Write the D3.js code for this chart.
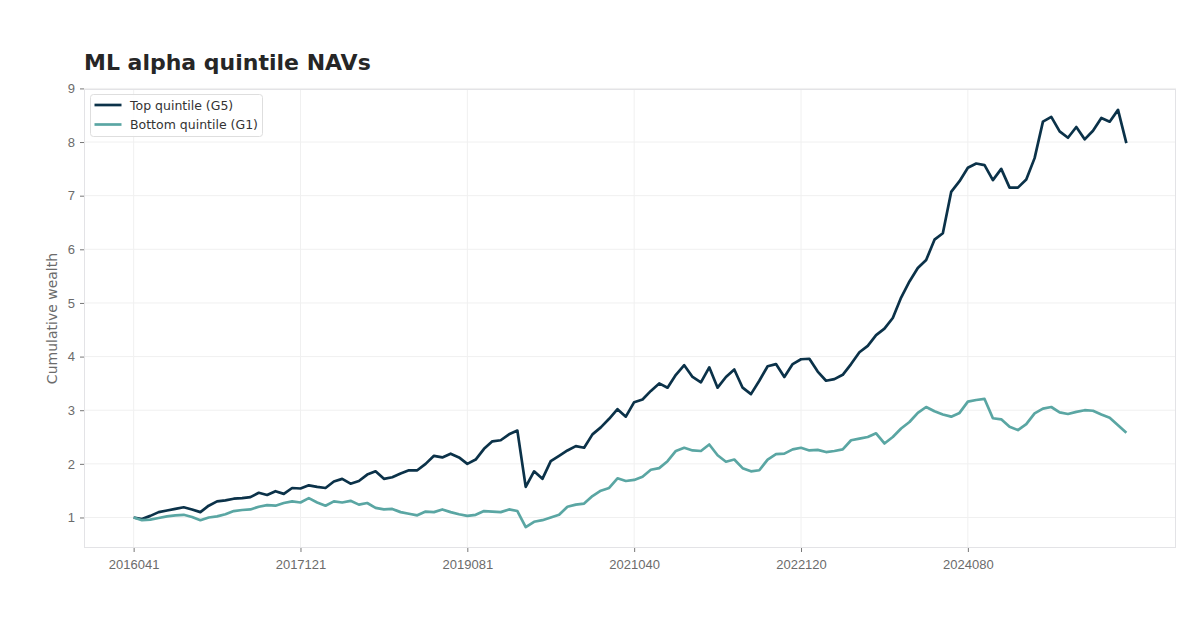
<!DOCTYPE html>
<html>
<head>
<meta charset="utf-8">
<script src="https://cdn.jsdelivr.net/npm/d3@7"></script>
<style>
  html, body { margin: 0; padding: 0; background: #fff; }
  svg { display: block; font-family: "DejaVu Sans", sans-serif; }
  .grid line { stroke: #f0f0f0; stroke-width: 1; }
  .axis text { fill: #6b6b6b; font-size: 13px; }
  .axis line { stroke: #777; }
  .axis .domain { display: none; }
</style>
</head>
<body>
<svg width="1200" height="630"></svg>
<script>
// tick labels shown on the x axis (every 20th observation)
const xTickLabels = ['2016041', '2017121', '2019081', '2021040', '2022120', '2024080'];
const xTickIdx = [0, 20, 40, 60, 80, 100];
const yTicks = [1, 2, 3, 4, 5, 6, 7, 8, 9];

// cumulative wealth, top quintile (G5)
const topG5 = [
  1.00, 0.97, 1.03, 1.10, 1.13, 1.16, 1.19, 1.15, 1.10, 1.22,
  1.30, 1.32, 1.35, 1.36, 1.38, 1.46, 1.42, 1.49, 1.44, 1.55,
  1.54, 1.60, 1.57, 1.55, 1.67, 1.72, 1.63, 1.68, 1.80, 1.86,
  1.72, 1.75, 1.82, 1.88, 1.88, 2.00, 2.15, 2.12, 2.19, 2.12,
  2.00, 2.08, 2.28, 2.42, 2.44, 2.55, 2.62, 1.57, 1.86, 1.72,
  2.05, 2.15, 2.25, 2.33, 2.30, 2.55, 2.68, 2.84, 3.02, 2.88,
  3.15, 3.20, 3.36, 3.50, 3.42, 3.66, 3.84, 3.62, 3.52, 3.80,
  3.42, 3.62, 3.76, 3.42, 3.30, 3.55, 3.82, 3.86, 3.62, 3.86,
  3.95, 3.96, 3.72, 3.55, 3.58, 3.66, 3.86, 4.08, 4.20, 4.40,
  4.52, 4.72, 5.10, 5.40, 5.65, 5.80, 6.18, 6.30, 7.07, 7.27,
  7.52, 7.60, 7.57, 7.29, 7.50, 7.15, 7.15, 7.30, 7.70, 8.38,
  8.47, 8.20, 8.08, 8.28, 8.05, 8.21, 8.45, 8.38, 8.60, 7.98
];

// cumulative wealth, bottom quintile (G1)
const bottomG1 = [
  1.00, 0.95, 0.96, 0.99, 1.02, 1.04, 1.05, 1.01, 0.95, 1.00,
  1.02, 1.06, 1.12, 1.14, 1.15, 1.20, 1.23, 1.22, 1.27, 1.30,
  1.28, 1.36, 1.28, 1.22, 1.30, 1.28, 1.31, 1.24, 1.27, 1.18,
  1.15, 1.16, 1.10, 1.07, 1.04, 1.11, 1.10, 1.15, 1.10, 1.06,
  1.03, 1.05, 1.12, 1.11, 1.10, 1.15, 1.12, 0.82, 0.92, 0.95,
  1.00, 1.05, 1.20, 1.24, 1.26, 1.40, 1.50, 1.55, 1.73, 1.68,
  1.70, 1.76, 1.89, 1.92, 2.05, 2.24, 2.30, 2.25, 2.24, 2.36,
  2.16, 2.04, 2.08, 1.92, 1.86, 1.88, 2.08, 2.18, 2.19, 2.27,
  2.30, 2.25, 2.26, 2.22, 2.24, 2.27, 2.44, 2.47, 2.50, 2.57,
  2.38, 2.50, 2.66, 2.78, 2.95, 3.06, 2.98, 2.92, 2.88, 2.95,
  3.16, 3.19, 3.21, 2.85, 2.83, 2.69, 2.63, 2.74, 2.94, 3.03,
  3.06, 2.96, 2.93, 2.97, 3.00, 2.99, 2.92, 2.86, 2.72, 2.58
];

const seriesNames = ['Top quintile (G5)', 'Bottom quintile (G1)'];
const seriesColors = ['#0b3249', '#5aa6a3'];

const svg = d3.select('svg');
const margin = { top: 89, right: 24, bottom: 82, left: 84 };
const W = 1200, H = 630;
const innerW = W - margin.left - margin.right;
const innerH = H - margin.top - margin.bottom;

const n = topG5.length;
const x = d3.scaleLinear()
  .domain([-(n - 1) * 0.05, (n - 1) * 1.05])
  .range([margin.left, margin.left + innerW]);

const allVals = topG5.concat(bottomG1);
const [lo, hi] = d3.extent(allVals);
const pad = (hi - lo) * 0.05;
const y = d3.scaleLinear()
  .domain([lo - pad, hi + pad])
  .range([margin.top + innerH, margin.top]);

// title
svg.append('text')
  .attr('x', margin.left)
  .attr('y', 70)
  .attr('font-size', 22)
  .attr('font-weight', 'bold')
  .attr('fill', '#262626')
  .text('ML alpha quintile NAVs');

// grid
const grid = svg.append('g').attr('class', 'grid');
grid.selectAll('.gy').data(yTicks).join('line')
  .attr('x1', margin.left).attr('x2', margin.left + innerW)
  .attr('y1', d => y(d)).attr('y2', d => y(d));
grid.selectAll('.gx').data(xTickIdx).join('line')
  .attr('x1', d => x(d)).attr('x2', d => x(d))
  .attr('y1', margin.top).attr('y2', margin.top + innerH);

// frame
svg.append('rect')
  .attr('x', margin.left + 0.5).attr('y', margin.top + 0.5)
  .attr('width', innerW - 1).attr('height', innerH - 1)
  .attr('fill', 'none').attr('stroke', '#e3e3e6');

// axes
svg.append('g').attr('class', 'axis')
  .attr('transform', `translate(${margin.left},0)`)
  .call(d3.axisLeft(y).tickValues(yTicks).tickSize(4).tickPadding(5).tickFormat(d3.format('d')));

svg.append('g').attr('class', 'axis')
  .attr('transform', `translate(0,${margin.top + innerH})`)
  .call(d3.axisBottom(x).tickValues(xTickIdx).tickSize(4).tickPadding(8)
    .tickFormat((d, i) => xTickLabels[i]));

// y label
svg.append('text')
  .attr('transform', `translate(57,${margin.top + innerH / 2}) rotate(-90)`)
  .attr('text-anchor', 'middle')
  .attr('font-size', 14)
  .attr('fill', '#6b6b6b')
  .text('Cumulative wealth');

// lines
const line = d3.line().x((d, i) => x(i)).y(d => y(d));
[topG5, bottomG1].forEach((s, k) => {
  svg.append('path')
    .datum(s)
    .attr('fill', 'none')
    .attr('stroke', seriesColors[k])
    .attr('stroke-width', 2.7)
    .attr('stroke-linejoin', 'round')
    .attr('d', line);
});

// legend
const lg = svg.append('g').attr('transform', 'translate(90.5,94.5)');
lg.append('rect')
  .attr('width', 172).attr('height', 42).attr('rx', 3)
  .attr('fill', '#fff').attr('fill-opacity', 0.9).attr('stroke', '#dedede');
seriesNames.forEach((name, k) => {
  const yy = 10.5 + k * 19.5;
  lg.append('line')
    .attr('x1', 4).attr('x2', 31).attr('y1', yy).attr('y2', yy)
    .attr('stroke', seriesColors[k]).attr('stroke-width', 2.7);
  lg.append('text')
    .attr('x', 39.5).attr('y', yy + 4.5)
    .attr('font-size', 12.5).attr('fill', '#333')
    .text(name);
});
</script>
</body>
</html>
